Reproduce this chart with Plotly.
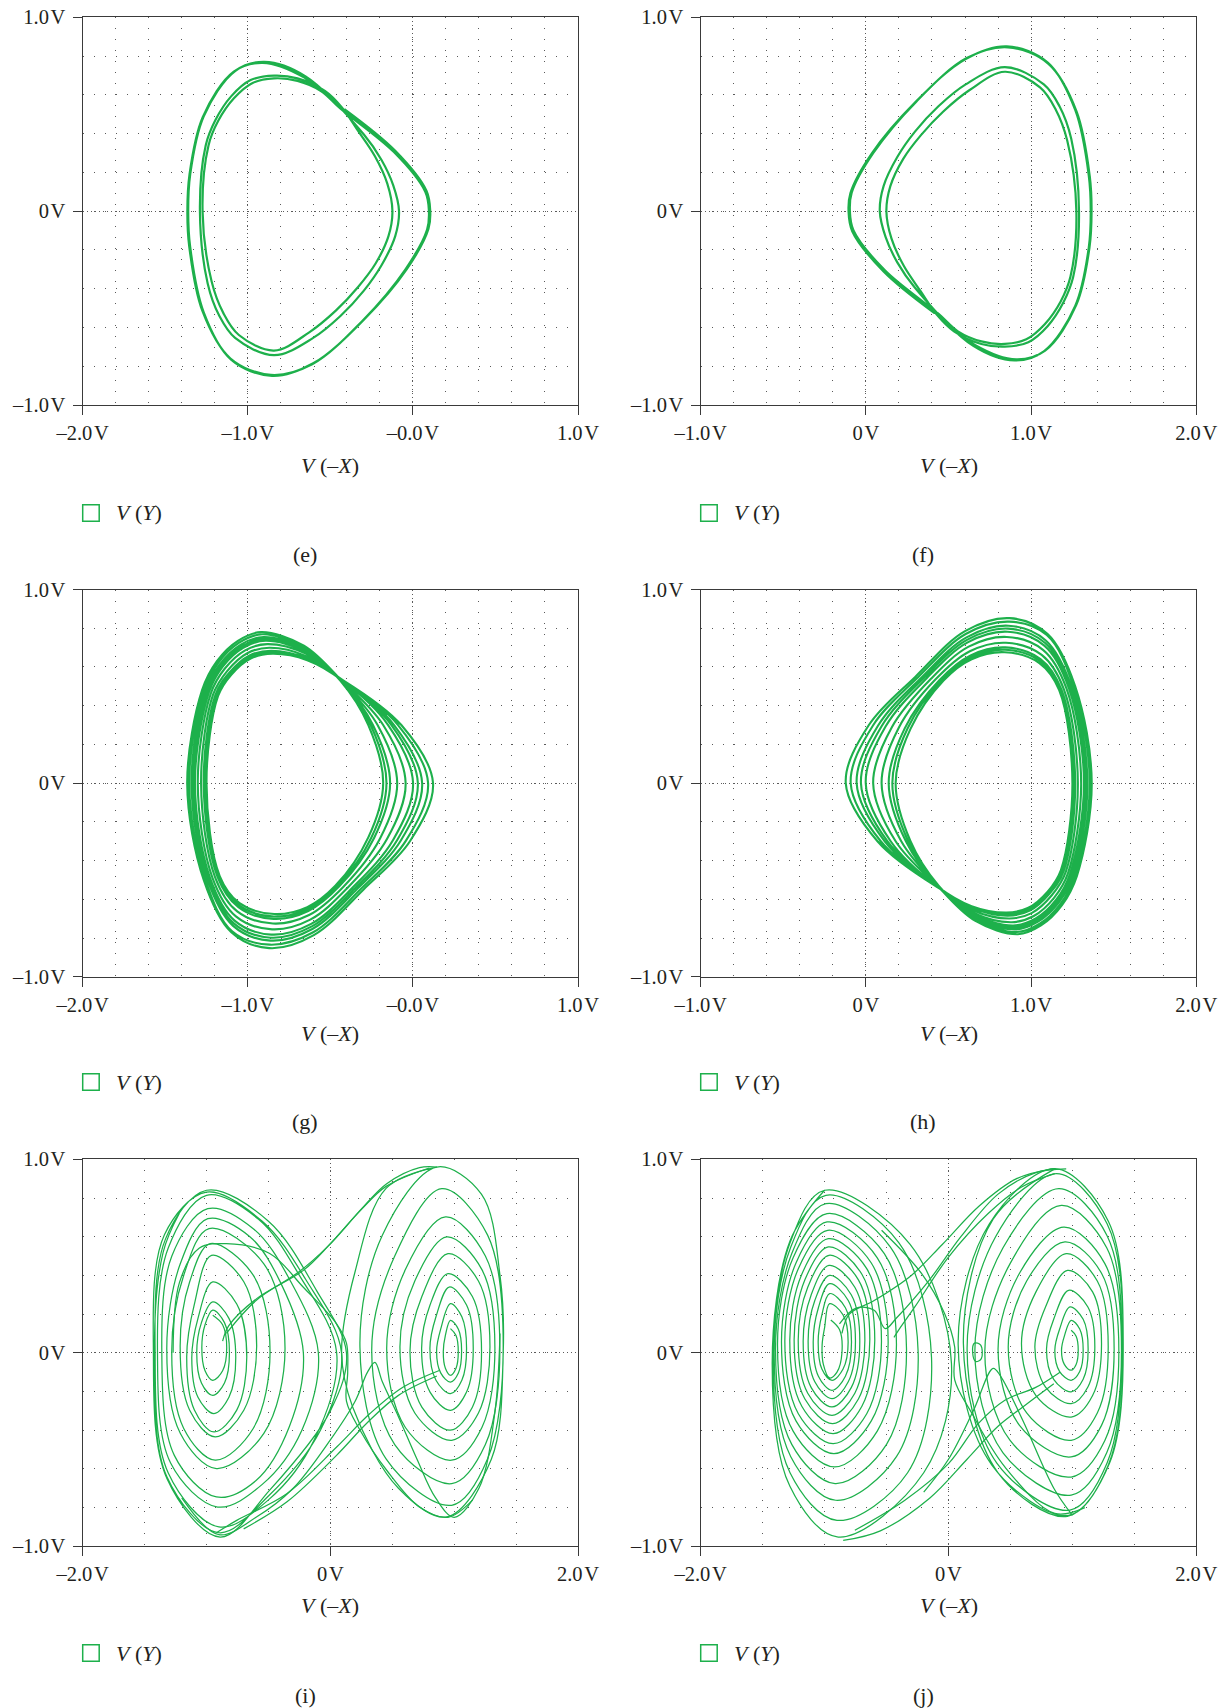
import plotly.graph_objects as go

FIG_W, FIG_H = 1226, 1708
GREEN = "#1db04b"
GRID = "#5a5a5a"
AXIS = "#3a3a3a"
TEXT = "#231f20"
FONT = "Liberation Serif, DejaVu Serif, serif"
TS = "\u200a"

# ---- tick values / labels -------------------------------------------------
X_TICKS_E = [-2, -1, 0, 1]
X_LABELS_E = ["–2.0" + TS + "V", "–1.0" + TS + "V", "–0.0" + TS + "V", "1.0" + TS + "V"]
X_TICKS_F = [-1, 0, 1, 2]
X_LABELS_F = ["–1.0" + TS + "V", "0" + TS + "V", "1.0" + TS + "V", "2.0" + TS + "V"]
X_TICKS_I = [-2, 0, 2]
X_LABELS_I = ["–2.0" + TS + "V", "0" + TS + "V", "2.0" + TS + "V"]
Y_TICKS = [-1, 0, 1]
Y_LABELS = ["–1.0" + TS + "V", "0" + TS + "V", "1.0" + TS + "V"]

# ---- (e) period-doubled orbit, V(-X) vs V(Y) -------------------------------
E_PATH = [
    (-0.415, 0.526), (-0.107, 0.311), (0.082, 0.105), (0.105, 0.0), (0.094, -0.092), (-0.036, -0.298),
    (-0.297, -0.56), (-0.604, -0.785), (-0.853, -0.85), (-1.101, -0.766), (-1.267, -0.522), (-1.349, -0.185),
    (-1.361, 0.0), (-1.349, 0.189), (-1.267, 0.489), (-1.077, 0.723), (-0.90, 0.77), (-0.65, 0.695),
    (-0.297, 0.395), (-0.19, 0.264), (-0.119, 0.133), (-0.084, 0.0), (-0.107, -0.129), (-0.19, -0.279),
    (-0.297, -0.41), (-0.439, -0.541), (-0.604, -0.654), (-0.841, -0.743), (-1.077, -0.654), (-1.172, -0.541),
    (-1.243, -0.373), (-1.29, 0.0), (-1.255, 0.339), (-1.196, 0.47), (-1.101, 0.592), (-0.983, 0.676),
    (-0.841, 0.699), (-0.699, 0.685), (-0.533, 0.62), (-0.43, 0.535),
    (-0.332, 0.414), (-0.23, 0.283), (-0.155, 0.142), (-0.124, 0.0), (-0.148, -0.129), (-0.226, -0.27),
    (-0.332, -0.391), (-0.467, -0.513), (-0.628, -0.625), (-0.841, -0.719), (-1.054, -0.639), (-1.148, -0.526),
    (-1.219, -0.363), (-1.274, 0.0), (-1.238, 0.339), (-1.179, 0.466), (-1.084, 0.582), (-0.971, 0.661),
    (-0.841, 0.685), (-0.699, 0.672), (-0.557, 0.62), (-0.44, 0.53),
    (-0.115, 0.305), (0.075, 0.10), (0.097, 0.0), (0.086, -0.095), (-0.045, -0.30), (-0.305, -0.565),
    (-0.61, -0.79), (-0.86, -0.845), (-1.105, -0.76), (-1.275, -0.515), (-1.355, -0.18), (-1.366, 0.0),
    (-1.353, 0.19), (-1.273, 0.485), (-1.085, 0.72), (-0.91, 0.765), (-0.66, 0.69), (-0.42, 0.52),
    (-0.107, 0.311),
]

# ---- (f) the mirrored orbit ------------------------------------------------
F_PATH = [
    (0.415, -0.526), (0.107, -0.311), (-0.082, -0.105), (-0.105, 0.0), (-0.094, 0.092), (0.036, 0.298),
    (0.297, 0.56), (0.604, 0.785), (0.853, 0.85), (1.101, 0.766), (1.267, 0.522), (1.349, 0.185),
    (1.361, 0.0), (1.349, -0.189), (1.267, -0.489), (1.077, -0.723), (0.90, -0.77), (0.65, -0.695),
    (0.297, -0.395), (0.19, -0.264), (0.119, -0.133), (0.084, 0.0), (0.107, 0.129), (0.19, 0.279),
    (0.297, 0.41), (0.439, 0.541), (0.604, 0.654), (0.841, 0.743), (1.077, 0.654), (1.172, 0.541),
    (1.243, 0.373), (1.29, 0.0), (1.255, -0.339), (1.196, -0.47), (1.101, -0.592), (0.983, -0.676),
    (0.841, -0.699), (0.699, -0.685), (0.533, -0.62), (0.43, -0.535),
    (0.332, -0.414), (0.23, -0.283), (0.155, -0.142), (0.124, 0.0), (0.148, 0.129), (0.226, 0.27),
    (0.332, 0.391), (0.467, 0.513), (0.628, 0.625), (0.841, 0.719), (1.054, 0.639), (1.148, 0.526),
    (1.219, 0.363), (1.274, 0.0), (1.238, -0.339), (1.179, -0.466), (1.084, -0.582), (0.971, -0.661),
    (0.841, -0.685), (0.699, -0.672), (0.557, -0.62), (0.44, -0.53),
    (0.115, -0.305), (-0.075, -0.10), (-0.097, 0.0), (-0.086, 0.095), (0.045, 0.30), (0.305, 0.565),
    (0.61, 0.79), (0.86, 0.845), (1.105, 0.76), (1.275, 0.515), (1.355, 0.18), (1.366, 0.0),
    (1.353, -0.19), (1.273, -0.485), (1.085, -0.72), (0.91, -0.765), (0.66, -0.69), (0.42, -0.52),
    (0.107, -0.311),
]

# ---- (g) single-scroll chaotic band ---------------------------------------
G_PATH = [
    (-0.42, 0.53), (-0.07, 0.30), (0.122, 0.0), (-0.018, -0.30), (-0.30, -0.55), (-0.60, -0.785), (-0.87, -0.852),
    (-1.10, -0.77), (-1.267, -0.50), (-1.367, 0.0), (-1.277, 0.48), (-1.187, 0.63), (-1.06, 0.735), (-0.92, 0.78), (-0.66, 0.71),
    (-0.434, 0.53), (-0.214, 0.30), (-0.095, 0.0), (-0.199, -0.286), (-0.422, -0.536), (-0.629, -0.681), (-0.848, -0.725),
    (-1.064, -0.662), (-1.198, -0.486), (-1.283, 0.0), (-1.21, 0.458), (-1.124, 0.58), (-1.003, 0.671), (-0.87, 0.699), (-0.646, 0.656),
    (-0.424, 0.53), (-0.114, 0.30), (0.056, 0.0), (-0.073, -0.296), (-0.337, -0.546), (-0.609, -0.753), (-0.863, -0.813),
    (-1.089, -0.737), (-1.245, -0.496), (-1.341, 0.0), (-1.256, 0.474), (-1.168, 0.615), (-1.042, 0.715), (-0.905, 0.755), (-0.656, 0.694),
    (-0.44, 0.53), (-0.27, 0.30), (-0.18, 0.0), (-0.27, -0.28), (-0.47, -0.53), (-0.64, -0.64), (-0.84, -0.676),
    (-1.05, -0.62), (-1.17, -0.48), (-1.25, 0.0), (-1.18, 0.45), (-1.10, 0.56), (-0.98, 0.645), (-0.85, 0.668), (-0.64, 0.635),
    (-0.428, 0.53), (-0.15, 0.30), (0.001, 0.0), (-0.119, -0.292), (-0.368, -0.542), (-0.616, -0.727), (-0.858, -0.782),
    (-1.08, -0.71), (-1.228, -0.492), (-1.32, 0.0), (-1.236, 0.468), (-1.152, 0.602), (-1.028, 0.699), (-0.892, 0.735), (-0.652, 0.68),
    (-0.437, 0.53), (-0.242, 0.30), (-0.138, 0.0), (-0.235, -0.283), (-0.446, -0.533), (-0.634, -0.66), (-0.844, -0.701),
    (-1.057, -0.641), (-1.184, -0.483), (-1.267, 0.0), (-1.197, 0.454), (-1.112, 0.57), (-0.992, 0.658), (-0.86, 0.684), (-0.643, 0.645),
    (-0.422, 0.53), (-0.09, 0.30), (0.092, 0.0), (-0.043, -0.298), (-0.317, -0.548), (-0.604, -0.77), (-0.867, -0.834),
    (-1.095, -0.765), (-1.257, -0.498), (-1.355, 0.0), (-1.267, 0.477), (-1.178, 0.623), (-1.052, 0.726), (-0.913, 0.769), (-0.658, 0.702),
    (-0.431, 0.53), (-0.18, 0.30), (-0.044, 0.0), (-0.157, -0.289), (-0.394, -0.539), (-0.622, -0.705), (-0.853, -0.755),
    (-1.072, -0.688), (-1.214, -0.489), (-1.303, 0.0), (-1.224, 0.463), (-1.139, 0.592), (-1.016, 0.686), (-0.882, 0.718), (-0.649, 0.669),
    (-0.426, 0.53), (-0.13, 0.30), (0.03, 0.0), (-0.095, -0.294), (-0.352, -0.544), (-0.612, -0.74), (-0.861, -0.798),
    (-1.085, -0.724), (-1.236, -0.494), (-1.331, 0.0), (-1.246, 0.471), (-1.16, 0.608), (-1.035, 0.707), (-0.898, 0.745), (-0.654, 0.687),
    (-0.438, 0.53), (-0.256, 0.30), (-0.16, 0.0), (-0.252, -0.282), (-0.458, -0.532), (-0.637, -0.65), (-0.842, -0.689),
    (-1.053, -0.631), (-1.177, -0.482), (-1.259, 0.0), (-1.189, 0.452), (-1.106, 0.565), (-0.986, 0.652), (-0.855, 0.676), (-0.641, 0.64),
    (-0.42, 0.53), (-0.07, 0.30),
]

# ---- (h) the mirrored single-scroll band ----------------------------------
H_PATH = [
    (0.42, -0.53), (0.07, -0.30), (-0.122, 0.0), (0.018, 0.30), (0.30, 0.55), (0.60, 0.785), (0.87, 0.852),
    (1.10, 0.77), (1.267, 0.50), (1.367, 0.0), (1.277, -0.48), (1.187, -0.63), (1.06, -0.735), (0.92, -0.78), (0.66, -0.71),
    (0.434, -0.53), (0.214, -0.30), (0.095, 0.0), (0.199, 0.286), (0.422, 0.536), (0.629, 0.681), (0.848, 0.725),
    (1.064, 0.662), (1.198, 0.486), (1.283, 0.0), (1.21, -0.458), (1.124, -0.58), (1.003, -0.671), (0.87, -0.699), (0.646, -0.656),
    (0.424, -0.53), (0.114, -0.30), (-0.056, 0.0), (0.073, 0.296), (0.337, 0.546), (0.609, 0.753), (0.863, 0.813),
    (1.089, 0.737), (1.245, 0.496), (1.341, 0.0), (1.256, -0.474), (1.168, -0.615), (1.042, -0.715), (0.905, -0.755), (0.656, -0.694),
    (0.44, -0.53), (0.27, -0.30), (0.18, 0.0), (0.27, 0.28), (0.47, 0.53), (0.64, 0.64), (0.84, 0.676),
    (1.05, 0.62), (1.17, 0.48), (1.25, 0.0), (1.18, -0.45), (1.10, -0.56), (0.98, -0.645), (0.85, -0.668), (0.64, -0.635),
    (0.428, -0.53), (0.15, -0.30), (-0.001, 0.0), (0.119, 0.292), (0.368, 0.542), (0.616, 0.727), (0.858, 0.782),
    (1.08, 0.71), (1.228, 0.492), (1.32, 0.0), (1.236, -0.468), (1.152, -0.602), (1.028, -0.699), (0.892, -0.735), (0.652, -0.68),
    (0.437, -0.53), (0.242, -0.30), (0.138, 0.0), (0.235, 0.283), (0.446, 0.533), (0.634, 0.66), (0.844, 0.701),
    (1.057, 0.641), (1.184, 0.483), (1.267, 0.0), (1.197, -0.454), (1.112, -0.57), (0.992, -0.658), (0.86, -0.684), (0.643, -0.645),
    (0.422, -0.53), (0.09, -0.30), (-0.092, 0.0), (0.043, 0.298), (0.317, 0.548), (0.604, 0.77), (0.867, 0.834),
    (1.095, 0.765), (1.257, 0.498), (1.355, 0.0), (1.267, -0.477), (1.178, -0.623), (1.052, -0.726), (0.913, -0.769), (0.658, -0.702),
    (0.431, -0.53), (0.18, -0.30), (0.044, 0.0), (0.157, 0.289), (0.394, 0.539), (0.622, 0.705), (0.853, 0.755),
    (1.072, 0.688), (1.214, 0.489), (1.303, 0.0), (1.224, -0.463), (1.139, -0.592), (1.016, -0.686), (0.882, -0.718), (0.649, -0.669),
    (0.426, -0.53), (0.13, -0.30), (-0.03, 0.0), (0.095, 0.294), (0.352, 0.544), (0.612, 0.74), (0.861, 0.798),
    (1.085, 0.724), (1.236, 0.494), (1.331, 0.0), (1.246, -0.471), (1.16, -0.608), (1.035, -0.707), (0.898, -0.745), (0.654, -0.687),
    (0.438, -0.53), (0.256, -0.30), (0.16, 0.0), (0.252, 0.282), (0.458, 0.532), (0.637, 0.65), (0.842, 0.689),
    (1.053, 0.631), (1.177, 0.482), (1.259, 0.0), (1.189, -0.452), (1.106, -0.565), (0.986, -0.652), (0.855, -0.676), (0.641, -0.64),
    (0.42, -0.53), (0.07, -0.30),
]

# ---- (i) double-scroll attractor ------------------------------------------
I_LEFT = [
    (-0.95, 0.194), (-0.87, 0.145), (-0.837, 0.026), (-0.87, -0.093), (-0.95, -0.142), (-1.012, -0.093), (-1.038, 0.026), (-1.012, 0.145),
    (-0.95, 0.22), (-0.855, 0.156), (-0.815, 0.0), (-0.855, -0.156), (-0.95, -0.22), (-1.041, -0.156), (-1.079, 0.0), (-1.041, 0.156),
    (-0.95, 0.263), (-0.819, 0.178), (-0.764, -0.026), (-0.819, -0.23), (-0.94, -0.314), (-1.069, -0.23), (-1.119, -0.026), (-1.069, 0.178),
    (-0.95, 0.366), (-0.756, 0.252), (-0.675, -0.022), (-0.756, -0.296), (-0.94, -0.409), (-1.098, -0.296), (-1.16, -0.022), (-1.098, 0.252),
    (-0.96, 0.504), (-0.699, 0.367), (-0.595, 0.035), (-0.699, -0.297), (-0.93, -0.435), (-1.136, -0.297), (-1.213, 0.035), (-1.136, 0.367),
    (-0.97, 0.564), (-0.623, 0.401), (-0.487, 0.005), (-0.623, -0.391), (-0.93, -0.555), (-1.184, -0.391), (-1.281, 0.005), (-1.184, 0.401),
    (-0.98, 0.642), (-0.537, 0.46), (-0.366, 0.022), (-0.537, -0.416), (-0.92, -0.598), (-1.212, -0.416), (-1.321, 0.022), (-1.212, 0.46),
    (-0.99, 0.693), (-0.65, 0.60), (-0.40, 0.36), (-0.218, 0.0), (-0.33, -0.38), (-0.60, -0.66), (-0.92, -0.745), (-1.26, -0.53), (-1.361, 0.0), (-1.28, 0.50),
    (-0.99, 0.745), (-0.62, 0.64), (-0.33, 0.38), (-0.097, 0.0), (-0.23, -0.40), (-0.55, -0.68), (-0.91, -0.797), (-1.29, -0.57), (-1.396, 0.0), (-1.31, 0.54),
    (-1.0, 0.814), (-0.58, 0.69), (-0.25, 0.40), (0.051, 0.0), (-0.13, -0.45), (-0.50, -0.76), (-0.90, -0.90), (-1.31, -0.62), (-1.415, 0.0), (-1.33, 0.59),
    (-1.0, 0.84), (-0.50, 0.68), (-0.11, 0.32), (0.13, 0.0), (0.0, -0.30), (-0.49, -0.71), (-0.89, -0.952), (-1.32, -0.65), (-1.429, 0.0), (-1.34, 0.61),
    (-1.0, 0.83), (-0.55, 0.68), (-0.20, 0.38), (0.09, 0.0), (-0.08, -0.40), (-0.50, -0.74), (-0.90, -0.93), (-1.32, -0.64), (-1.42, 0.0), (-1.35, 0.52),
    (-1.22, 0.72),
]
I_RIGHT = [
    (0.97, 0.125), (1.015, 0.09), (1.033, 0.005), (1.015, -0.08), (0.97, -0.116), (0.929, -0.08), (0.912, 0.005), (0.929, 0.09),
    (0.97, 0.168), (1.034, 0.122), (1.06, 0.009), (1.034, -0.104), (0.97, -0.151), (0.891, -0.104), (0.858, 0.009), (0.891, 0.122),
    (0.97, 0.254), (1.062, 0.186), (1.10, 0.022), (1.062, -0.142), (0.97, -0.211), (0.853, -0.142), (0.804, 0.022), (0.853, 0.186),
    (0.96, 0.34), (1.10, 0.247), (1.154, 0.022), (1.10, -0.203), (0.97, -0.297), (0.805, -0.203), (0.737, 0.022), (0.805, 0.247),
    (0.95, 0.409), (1.147, 0.291), (1.221, 0.005), (1.147, -0.281), (0.97, -0.40), (0.739, -0.281), (0.643, 0.005), (0.739, 0.291),
    (0.95, 0.512), (1.196, 0.371), (1.289, 0.03), (1.196, -0.311), (0.98, -0.452), (0.682, -0.311), (0.562, 0.03), (0.682, 0.371),
    (0.94, 0.599), (1.224, 0.43), (1.329, 0.022), (1.224, -0.386), (0.98, -0.555), (0.606, -0.386), (0.455, 0.022), (0.606, 0.43),
    (0.93, 0.702), (1.252, 0.50), (1.369, 0.013), (1.252, -0.474), (0.98, -0.676), (0.52, -0.474), (0.334, 0.013), (0.52, 0.50),
    (0.90, 0.848), (1.27, 0.608), (1.396, 0.03), (1.27, -0.548), (0.98, -0.788), (0.45, -0.548), (0.239, 0.03), (0.42, 0.608),
    (0.86, 0.96), (1.22, 0.82), (1.37, 0.40), (1.396, 0.0), (1.30, -0.55), (0.94, -0.848), (0.55, -0.70), (0.18, -0.28), (0.091, 0.0), (0.20, 0.42), (0.45, 0.85),
    (0.86, 0.96),
]
I_LINKS = [
    (0.86, 0.96), (0.72, 0.957), (0.455, 0.874), (0.266, 0.754), (0.0, 0.564), (-0.218, 0.426), (-0.595, 0.28), (-0.82, 0.14), (-0.87, 0.06),
    None,
    (0.80, 0.955), (0.45, 0.86), (0.25, 0.74), (-0.02, 0.55), (-0.25, 0.42), (-0.60, 0.27), (-0.84, 0.10),
    None,
    (0.885, -0.09), (0.589, -0.177), (0.32, -0.314), (0.051, -0.487), (-0.352, -0.728), (-0.756, -0.866), (-0.92, -0.93),
    None,
    (0.86, -0.12), (0.55, -0.22), (0.30, -0.36), (0.05, -0.53), (-0.35, -0.77), (-0.70, -0.91),
    None,
    (-1.27, 0.0), (-1.22, 0.36), (-1.06, 0.54), (-0.84, 0.564), (-0.49, 0.513), (-0.22, 0.34), (0.05, 0.15), (0.13, 0.05),
    (0.14, -0.10), (0.13, -0.25), (0.24, -0.40), (0.455, -0.607), (0.72, -0.797), (0.95, -0.85), (1.15, -0.76),
    None,
    (-1.20, -0.75), (-0.90, -0.94), (-0.60, -0.85), (-0.30, -0.70), (0.0, -0.45), (0.20, -0.25), (0.30, -0.10), (0.36, -0.05),
    (0.42, -0.15), (0.55, -0.33), (0.70, -0.55), (0.85, -0.75), (1.0, -0.85), (1.20, -0.70), (1.33, -0.30), (1.37, 0.1),
]

# ---- (j) double-scroll attractor, second parameter set ---------------------
J_LEFT = [
    (-0.95, 0.17), (-0.88, 0.12), (-0.86, 0.0), (-0.90, -0.10), (-0.96, -0.13), (-1.01, -0.06), (-1.02, 0.04), (-1.0, 0.13),
    (-0.96, 0.254), (-0.851, 0.196), (-0.81, 0.056), (-0.851, -0.084), (-0.94, -0.142), (-1.022, -0.084), (-1.052, 0.056), (-1.022, 0.196),
    (-0.96, 0.306), (-0.832, 0.233), (-0.783, 0.056), (-0.832, -0.121), (-0.94, -0.194), (-1.05, -0.121), (-1.092, 0.056), (-1.05, 0.233),
    (-0.96, 0.357), (-0.809, 0.27), (-0.751, 0.06), (-0.809, -0.15), (-0.94, -0.237), (-1.079, -0.15), (-1.133, 0.06), (-1.079, 0.27),
    (-0.96, 0.40), (-0.785, 0.30), (-0.716, 0.06), (-0.785, -0.18), (-0.94, -0.28), (-1.108, -0.18), (-1.173, 0.06), (-1.108, 0.30),
    (-0.965, 0.452), (-0.756, 0.339), (-0.675, 0.065), (-0.756, -0.209), (-0.94, -0.323), (-1.136, -0.209), (-1.213, 0.065), (-1.136, 0.339),
    (-0.965, 0.504), (-0.727, 0.377), (-0.635, 0.069), (-0.727, -0.239), (-0.935, -0.366), (-1.159, -0.239), (-1.246, 0.069), (-1.159, 0.377),
    (-0.97, 0.547), (-0.699, 0.406), (-0.595, 0.065), (-0.699, -0.276), (-0.93, -0.418), (-1.184, -0.276), (-1.281, 0.065), (-1.184, 0.406),
    (-0.97, 0.59), (-0.66, 0.435), (-0.541, 0.06), (-0.66, -0.315), (-0.93, -0.47), (-1.212, -0.315), (-1.321, 0.06), (-1.212, 0.435),
    (-0.975, 0.633), (-0.623, 0.464), (-0.487, 0.056), (-0.623, -0.352), (-0.925, -0.521), (-1.231, -0.352), (-1.348, 0.056), (-1.231, 0.464),
    (-0.98, 0.676), (-0.575, 0.491), (-0.42, 0.043), (-0.575, -0.405), (-0.92, -0.59), (-1.254, -0.405), (-1.38, 0.043), (-1.254, 0.491),
    (-0.98, 0.719), (-0.518, 0.513), (-0.339, 0.02), (-0.50, -0.473), (-0.915, -0.676), (-1.265, -0.473), (-1.396, 0.02), (-1.265, 0.513),
    (-0.99, 0.771), (-0.47, 0.547), (-0.245, 0.005), (-0.42, -0.537), (-0.91, -0.762), (-1.273, -0.537), (-1.407, 0.005), (-1.273, 0.547),
    (-0.99, 0.814), (-0.40, 0.568), (-0.137, -0.026), (-0.33, -0.62), (-0.90, -0.866), (-1.279, -0.62), (-1.415, -0.026), (-1.279, 0.568),
    (-1.0, 0.84), (-0.31, 0.56), (0.024, -0.056), (-0.20, -0.62), (-0.89, -0.952), (-1.28, -0.69), (-1.423, -0.056), (-1.28, 0.577),
    (-1.0, 0.84),
]
J_RIGHT = [
    (0.99, 0.116), (1.03, 0.086), (1.047, 0.013), (1.03, -0.06), (0.99, -0.09), (0.935, -0.06), (0.912, 0.013), (0.935, 0.086),
    (0.99, 0.168), (1.059, 0.123), (1.087, 0.013), (1.059, -0.097), (0.99, -0.142), (0.897, -0.097), (0.858, 0.013), (0.897, 0.123),
    (0.98, 0.237), (1.087, 0.173), (1.127, 0.018), (1.087, -0.137), (0.99, -0.202), (0.849, -0.137), (0.791, 0.018), (0.849, 0.173),
    (0.97, 0.323), (1.125, 0.237), (1.181, 0.03), (1.125, -0.177), (0.99, -0.263), (0.783, -0.177), (0.697, 0.03), (0.783, 0.237),
    (0.96, 0.426), (1.163, 0.315), (1.235, 0.047), (1.163, -0.221), (0.99, -0.332), (0.706, -0.221), (0.589, 0.047), (0.706, 0.315),
    (0.95, 0.512), (1.201, 0.371), (1.289, 0.03), (1.201, -0.311), (0.99, -0.452), (0.631, -0.311), (0.482, 0.03), (0.631, 0.371),
    (0.94, 0.573), (1.235, 0.411), (1.337, 0.018), (1.235, -0.375), (0.99, -0.538), (0.573, -0.375), (0.40, 0.018), (0.573, 0.411),
    (0.93, 0.65), (1.262, 0.461), (1.375, 0.004), (1.262, -0.453), (0.99, -0.642), (0.497, -0.453), (0.293, 0.004), (0.497, 0.461),
    (0.91, 0.762), (1.277, 0.543), (1.396, 0.013), (1.277, -0.517), (0.99, -0.736), (0.44, -0.517), (0.213, 0.013), (0.44, 0.543),
    (0.89, 0.848), (1.28, 0.605), (1.40, 0.018), (1.28, -0.57), (0.98, -0.813), (0.39, -0.57), (0.15, 0.018), (0.38, 0.60),
    (0.87, 0.926), (1.28, 0.667), (1.41, 0.043), (1.29, -0.58), (0.97, -0.84), (0.35, -0.58), (0.078, 0.043), (0.33, 0.667),
    (0.86, 0.952), (1.29, 0.68), (1.41, 0.05), (1.30, -0.57), (0.96, -0.845), (0.40, -0.62), (0.12, 0.05), (0.36, 0.69),
    (0.86, 0.952),
]
J_LINKS = [
    (-0.86, 0.10), (-0.80, 0.20), (-0.60, 0.27), (-0.30, 0.40), (-0.05, 0.56), (0.25, 0.76), (0.55, 0.90), (0.85, 0.952),
    None,
    (-0.88, 0.15), (-0.75, 0.23), (-0.60, 0.22), (-0.51, 0.125), (-0.42, 0.18), (-0.15, 0.38), (0.10, 0.60),
    (0.40, 0.82), (0.70, 0.93), (0.95, 0.95),
    None,
    (-0.44, 0.08), (-0.40, 0.12), (-0.272, 0.237), (0.0, 0.495), (0.32, 0.72), (0.59, 0.857), (0.858, 0.926),
    None,
    (0.90, -0.10), (0.70, -0.18), (0.455, -0.245), (0.24, -0.366), (0.0, -0.573), (-0.352, -0.762), (-0.756, -0.917),
    None,
    (0.85, -0.16), (0.60, -0.28), (0.40, -0.38), (0.15, -0.55), (-0.15, -0.75), (-0.55, -0.92), (-0.85, -0.97),
    None,
    (-0.20, -0.72), (0.0, -0.55), (0.2, -0.30), (0.36, -0.08), (0.42, -0.12), (0.6, -0.35), (0.85, -0.70), (1.0, -0.84),
    None,
    (-0.54, 0.633), (-0.218, 0.41), (-0.03, 0.2), (0.05, 0.03), (0.05, -0.14), (0.186, -0.31), (0.455, -0.59),
    (0.858, -0.83), (1.1, -0.80),
    None,
    (0.21, 0.05), (0.26, 0.04), (0.265, -0.03), (0.22, -0.045), (0.195, 0.0), (0.21, 0.05),
]

# ---- page geometry (pixels) ------------------------------------------------
COLS = [(82.7, 578.0), (700.7, 1196.3)]
ROWS = [(17.3, 405.0), (589.5, 976.8), (1159.3, 1546.3)]
TITLE_Y = [466, 1033, 1605]
LEGEND_Y = [513, 1082, 1653]
LABEL_Y = [554, 1121, 1695]

PANELS = [
    dict(tag="(e)", col=0, row=0, xr=[-2, 1], xt=X_TICKS_E, xl=X_LABELS_E, minor=0.2, path=E_PATH, lw=2.2),
    dict(tag="(f)", col=1, row=0, xr=[-1, 2], xt=X_TICKS_F, xl=X_LABELS_F, minor=0.2, path=F_PATH, lw=2.2),
    dict(tag="(g)", col=0, row=1, xr=[-2, 1], xt=X_TICKS_E, xl=X_LABELS_E, minor=0.2, path=G_PATH, lw=2.1),
    dict(tag="(h)", col=1, row=1, xr=[-1, 2], xt=X_TICKS_F, xl=X_LABELS_F, minor=0.2, path=H_PATH, lw=2.1),
    dict(tag="(i)", col=0, row=2, xr=[-2, 2], xt=X_TICKS_I, xl=X_LABELS_I, minor=0.5,
         path=I_LEFT + [None] + I_RIGHT + [None] + I_LINKS, lw=1.25),
    dict(tag="(j)", col=1, row=2, xr=[-2, 2], xt=X_TICKS_I, xl=X_LABELS_I, minor=0.5,
         path=J_LEFT + [None] + J_RIGHT + [None] + J_LINKS, lw=1.25),
]


def unzip(points):
    xs, ys = [], []
    for p in points:
        if p is None:
            xs.append(None)
            ys.append(None)
        else:
            xs.append(p[0])
            ys.append(p[1])
    return xs, ys


def px_x(v):
    return v / FIG_W


def px_y(v):
    return 1 - v / FIG_H


tick_font = dict(family=FONT, size=20.5, color=TEXT)
text_font = dict(family=FONT, size=22, color=TEXT)
fig = go.Figure()
layout = dict(
    width=FIG_W, height=FIG_H, autosize=False,
    margin=dict(l=0, r=0, t=0, b=0, autoexpand=False),
    paper_bgcolor="white", plot_bgcolor="white",
    showlegend=False, annotations=[], shapes=[],
)

for i, p in enumerate(PANELS, start=1):
    sx = "" if i == 1 else str(i)
    x0, x1 = COLS[p["col"]]
    y0, y1 = ROWS[p["row"]]
    xs, ys = unzip(p["path"])
    fig.add_trace(go.Scatter(
        x=xs, y=ys, mode="lines", xaxis="x" + sx, yaxis="y" + sx,
        line=dict(color=GREEN, width=p["lw"], shape="spline", smoothing=1.0),
        hoverinfo="skip", connectgaps=False,
    ))
    common = dict(
        showline=True, linecolor=AXIS, linewidth=1.3, mirror=True,
        ticks="outside", ticklen=9, tickwidth=1.3, tickcolor=AXIS,
        showgrid=True, gridcolor=GRID, gridwidth=1, griddash="1px,3px",
        zeroline=False, tickfont=tick_font, fixedrange=True, automargin=False,
    )
    layout["xaxis" + sx] = dict(
        common, domain=[px_x(x0), px_x(x1)], anchor="y" + sx, range=p["xr"],
        tickmode="array", tickvals=p["xt"], ticktext=p["xl"], ticklabelstandoff=0,
        minor=dict(dtick=p["minor"], tick0=0, showgrid=True, gridcolor=GRID,
                   gridwidth=1, griddash="1px,10px", ticks=""),
    )
    layout["yaxis" + sx] = dict(
        common, domain=[px_y(y1), px_y(y0)], anchor="x" + sx, range=[-1, 1],
        tickmode="array", tickvals=Y_TICKS, ticktext=Y_LABELS, ticklabelstandoff=3,
        minor=dict(dtick=0.2, tick0=0, showgrid=True, gridcolor=GRID,
                   gridwidth=1, griddash="1px,10px", ticks=""),
    )
    cx = (x0 + x1) / 2
    r = p["row"]
    layout["annotations"].append(dict(
        xref="paper", yref="paper", x=px_x(cx), y=px_y(TITLE_Y[r]),
        text="<i>V</i> (–<i>X</i>)", showarrow=False, xanchor="center", yanchor="middle",
        font=text_font,
    ))
    layout["shapes"].append(dict(
        type="rect", xref="paper", yref="paper",
        x0=px_x(x0), x1=px_x(x0 + 16.5), y0=px_y(LEGEND_Y[r] + 8.3), y1=px_y(LEGEND_Y[r] - 8.3),
        line=dict(color=GREEN, width=1.5), fillcolor="rgba(0,0,0,0)",
    ))
    layout["annotations"].append(dict(
        xref="paper", yref="paper", x=px_x(x0 + 31), y=px_y(LEGEND_Y[r]),
        text="<i>V</i> (<i>Y</i>)", showarrow=False, xanchor="left", yanchor="middle",
        font=text_font,
    ))
    layout["annotations"].append(dict(
        xref="paper", yref="paper", x=px_x(x0 + 222.5), y=px_y(LABEL_Y[r]),
        text=p["tag"], showarrow=False, xanchor="center", yanchor="middle",
        font=text_font,
    ))

fig.update_layout(**layout)
fig.write_html("out.html")
